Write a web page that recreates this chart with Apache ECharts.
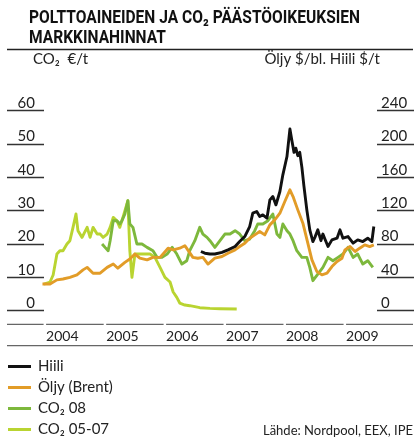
<!DOCTYPE html>
<html>
<head>
<meta charset="utf-8">
<script src="https://cdn.jsdelivr.net/npm/echarts@6/dist/echarts.min.js"></script>
<style>
html,body{margin:0;padding:0;background:#fff;}
#chart{width:414px;height:446px;}
</style>
</head>
<body>
<div id="chart"></div>
<script>
// ---- data ----
const titleLines = ['POLTTOAINEIDEN JA CO₂ PÄÄSTÖOIKEUKSIEN', 'MARKKINAHINNAT'];
const yearLabels = ['2004', '2005', '2006', '2007', '2008', '2009'];
const leftTicks = [0, 10, 20, 30, 40, 50, 60];
const rightTicks = [0, 40, 80, 120, 160, 200, 240];

const hiiliDates = ['2006-08-01','2006-08-25','2006-09-25','2006-10-25','2006-12-07','2007-01-13','2007-02-25','2007-03-25','2007-04-25','2007-05-25',
  '2007-06-13','2007-07-07','2007-07-25','2007-08-13','2007-09-07','2007-09-25','2007-10-13','2007-11-01','2007-11-25','2007-12-13',
  '2008-01-07','2008-01-25','2008-02-07','2008-02-19','2008-03-01','2008-03-13','2008-03-25','2008-04-07','2008-04-19','2008-05-07',
  '2008-05-25','2008-06-13','2008-06-25','2008-07-13','2008-08-01','2008-08-13','2008-08-25','2008-09-13','2008-10-07','2008-11-07',
  '2008-11-25','2008-12-13','2009-01-13','2009-02-13','2009-03-13','2009-04-13','2009-05-13','2009-06-07','2009-06-19'];
const hiiliValues = [71,69,68,68,70,73,77,83,89,101,
  117,119,113,115,111,133,137,127,143,163,
  185,218,203,190,195,186,190,172,150,121,
  97,83,88,97,84,92,86,77,85,87,
  97,87,89,81,85,83,87,83,101];

const oljyDates = ['2003-12-10','2004-01-25','2004-03-07','2004-04-13','2004-05-25','2004-07-07','2004-08-13','2004-09-07','2004-10-13','2004-11-25',
  '2005-01-07','2005-02-13','2005-03-13','2005-04-25','2005-05-25','2005-06-25','2005-07-25','2005-09-07','2005-10-13','2005-11-25',
  '2006-01-13','2006-02-13','2006-03-25','2006-04-25','2006-05-13','2006-06-13','2006-07-13','2006-08-13','2006-09-13','2006-09-25',
  '2006-10-25','2006-12-07','2007-01-13','2007-02-25','2007-03-25','2007-04-25','2007-05-25','2007-06-25','2007-07-25','2007-08-25',
  '2007-09-25','2007-10-25','2007-11-25','2007-12-25','2008-01-25','2008-02-13','2008-03-13','2008-04-13','2008-05-13','2008-06-07',
  '2008-07-07','2008-08-07','2008-09-07','2008-10-07','2008-11-07','2008-12-07','2008-12-25','2009-01-25','2009-02-25','2009-03-25',
  '2009-04-25','2009-05-25','2009-06-19'];
const oljyValues = [32,32,37,38,40,43,49,52,45,45,
  52,56,51,58,62,68,63,61,64,64,
  75,73,75,78,73,64,63,64,56,55,
  63,65,69,73,77,81,87,91,95,91,
  103,109,117,131,145,137,121,105,81,61,
  47,43,45,53,59,63,73,77,71,75,
  79,77,79];

const co2_08Dates = ['2004-12-07','2004-12-25','2005-01-13','2005-01-25','2005-02-13','2005-03-07','2005-03-25','2005-04-07','2005-04-25','2005-05-13',
  '2005-05-25','2005-06-13','2005-07-07','2005-08-07','2005-09-07','2005-10-13','2005-11-07','2005-12-07','2006-01-07','2006-02-07',
  '2006-03-07','2006-04-07','2006-05-07','2006-05-25','2006-06-25','2006-07-25','2006-08-13','2006-09-07','2006-09-25','2006-10-25',
  '2006-11-25','2006-12-25','2007-01-25','2007-02-25','2007-03-25','2007-04-25','2007-05-25','2007-06-25','2007-07-13','2007-08-13',
  '2007-09-13','2007-10-13','2007-11-07','2007-11-25','2007-12-13','2008-01-07','2008-01-25','2008-02-13','2008-03-07','2008-04-07',
  '2008-05-07','2008-05-25','2008-06-13','2008-07-13','2008-08-13','2008-09-13','2008-10-13','2008-11-13','2008-12-13','2009-01-13',
  '2009-02-13','2009-03-13','2009-04-13','2009-05-13','2009-06-13'];
const co2_08Values = [20,19,18,21,27,27,26,27,29,33,
  26,25,20,20,19,18,16,16,17,19,
  17,14,15,18,21,25,23,22,21,19,
  21,23,23,24,23,21,21.5,24,26,26,
  27,29,23,22,26,24,23,21,18,16,
  16,13,9,11,13,16,15,16,17,19,
  16,17,14,15,13];

const co2_0507Dates = ['2003-12-19','2004-01-25','2004-02-13','2004-03-07','2004-03-25','2004-04-13','2004-05-07','2004-05-25','2004-06-13','2004-07-01',
  '2004-07-13','2004-08-07','2004-09-07','2004-09-25','2004-10-13','2004-11-07','2004-11-25','2004-12-13','2005-01-07','2005-01-25',
  '2005-02-13','2005-03-07','2005-03-25','2005-04-13','2005-05-01','2005-05-13','2005-05-25','2005-06-07','2005-06-25','2005-07-25',
  '2005-08-25','2005-09-25','2005-10-25','2005-11-25','2005-12-25','2006-01-25','2006-02-13','2006-03-07','2006-03-25','2006-04-25',
  '2006-05-25','2006-06-25','2006-07-25','2006-09-25','2006-11-25','2007-03-07'];
const co2_0507Values = [8,8.6,10.7,17,18,18,20,21,25,29,
  24,22,25,22,25,23,23,22,23,25,
  28,27,25,28,31,33,18,10,17,17,
  17,17,16,13,10,8.6,5.6,4,2.3,1.7,
  1.5,1.2,0.9,0.7,0.6,0.5];

// ---- chart ----
const FONT = 'Lato, "Noto Sans", sans-serif';
const TITLE_FAMILY = 'Roboto, "Noto Sans", sans-serif';
const TITLE_SIZE = 18;
const TITLE_WIDTH = 331; // width of the first title line in the reference
const ts = s => { const p = String(s).split('-').map(Number); return new Date(p[0], (p[1] || 1) - 1, p[2] || 1).getTime(); };
const pairs = (d, v) => d.map((x, i) => [ts(x), v[i]]);

const chart = echarts.init(document.getElementById('chart'), null, {renderer: 'canvas'});

const lineSeries = (name, axis, dates, vals, color, z) => ({
  name, type: 'line', yAxisIndex: axis, data: pairs(dates, vals),
  symbol: 'none', showSymbol: false, z,
  lineStyle: {color, width: 2.9, join: 'round'},
  itemStyle: {color}
});

chart.setOption({
  animation: false,
  backgroundColor: '#fff',
  textStyle: {fontFamily: FONT},
  title: [
    {text: 'CO₂  €/t', left: 33, top: 52, padding: 0,
     textStyle: {fontFamily: FONT, fontWeight: 'normal', fontSize: 15, color: '#222'}},
    {text: 'Öljy $/bl. Hiili $/t', right: 34, top: 52, padding: 0,
     textStyle: {fontFamily: FONT, fontWeight: 'normal', fontSize: 15, color: '#222'}},
    {text: 'Lähde: Nordpool, EEX, IPE', right: 1, top: 424, padding: 0,
     textStyle: {fontFamily: FONT, fontWeight: 'normal', fontSize: 13, color: '#222'}}
  ],
  legend: {
    orient: 'vertical', left: 8, top: 359, itemWidth: 23, itemHeight: 3, itemGap: 6,
    icon: 'rect', padding: 0,
    textStyle: {fontFamily: FONT, fontSize: 15, color: '#222', padding: [0, 0, 0, 2]},
    data: ['Hiili', 'Öljy (Brent)', 'CO₂ 08', 'CO₂ 05-07']
  },
  grid: {left: 41, right: 8, top: 110.7, bottom: 135.3},
  xAxis: {
    type: 'value', min: ts('2003-12-01'), max: ts('2010-01-01'), offset: 13.6,
    axisLine: {show: false}, axisTick: {show: false}, splitLine: {show: false},
    axisLabel: {
      customValues: yearLabels.map(ts),
      formatter: v => String(new Date(v).getFullYear()),
      align: 'left', margin: 5, fontSize: 14, color: '#222', fontFamily: FONT
    }
  },
  yAxis: [
    {type: 'value', position: 'left', min: leftTicks[0], max: leftTicks[leftTicks.length - 1], interval: 10, offset: -3,
     axisLine: {show: false}, splitLine: {show: false},
     axisTick: {show: true, length: 37, lineStyle: {color: '#333', width: 1.3}},
     axisLabel: {margin: 9, fontSize: 15, color: '#222', verticalAlign: 'bottom', fontFamily: FONT}},
    {type: 'value', position: 'right', min: rightTicks[0], max: rightTicks[rightTicks.length - 1], interval: 40, offset: -29,
     axisLine: {show: false}, splitLine: {show: false},
     axisTick: {show: true, length: 37, lineStyle: {color: '#333', width: 1.3}},
     axisLabel: {margin: 4, fontSize: 15, color: '#222', verticalAlign: 'bottom', fontFamily: FONT}}
  ],
  series: [
    lineSeries('Hiili', 1, hiiliDates, hiiliValues, '#111111', 6),
    lineSeries('Öljy (Brent)', 1, oljyDates, oljyValues, '#E29C28', 5),
    lineSeries('CO₂ 08', 0, co2_08Dates, co2_08Values, '#7DB83C', 4),
    lineSeries('CO₂ 05-07', 0, co2_0507Dates, co2_0507Values, '#B9D431', 3)
  ]
});

// condensed bold title: real text, squeezed horizontally to the reference width
const mctx = document.createElement('canvas').getContext('2d');
mctx.font = 'bold ' + TITLE_SIZE + 'px ' + TITLE_FAMILY;
const titleScale = TITLE_WIDTH / mctx.measureText(titleLines[0]).width;

// segmented year baseline + rules, placed with the chart's own x scale
const bounds = yearLabels.map(y => chart.convertToPixel({xAxisIndex: 0}, ts(y)));
const segs = [];
let start = 7;
bounds.forEach(b => { segs.push([start, b - 2.5]); start = b; });
segs.push([start, 413]);
const AXIS_Y = 324.3;
const graphics = segs.map(s => ({
  type: 'line', silent: true,
  shape: {x1: s[0], y1: AXIS_Y, x2: s[1], y2: AXIS_Y},
  style: {stroke: '#666', lineWidth: 1.3}
}));
graphics.push({type: 'line', silent: true, shape: {x1: 7, y1: 345.7, x2: 413, y2: 345.7}, style: {stroke: '#666', lineWidth: 1.3}});
graphics.push({type: 'line', silent: true, shape: {x1: 7, y1: 49.5, x2: 413, y2: 49.5}, style: {stroke: '#222', lineWidth: 1.3}});
graphics.push({
  type: 'text', silent: true, x: 29, y: 8, scaleX: titleScale,
  style: {text: titleLines.join('\n'), fontFamily: TITLE_FAMILY, fontWeight: 'bold', fontSize: TITLE_SIZE, lineHeight: 20, fill: '#111'}
});
chart.setOption({graphic: graphics});
</script>
</body>
</html>
